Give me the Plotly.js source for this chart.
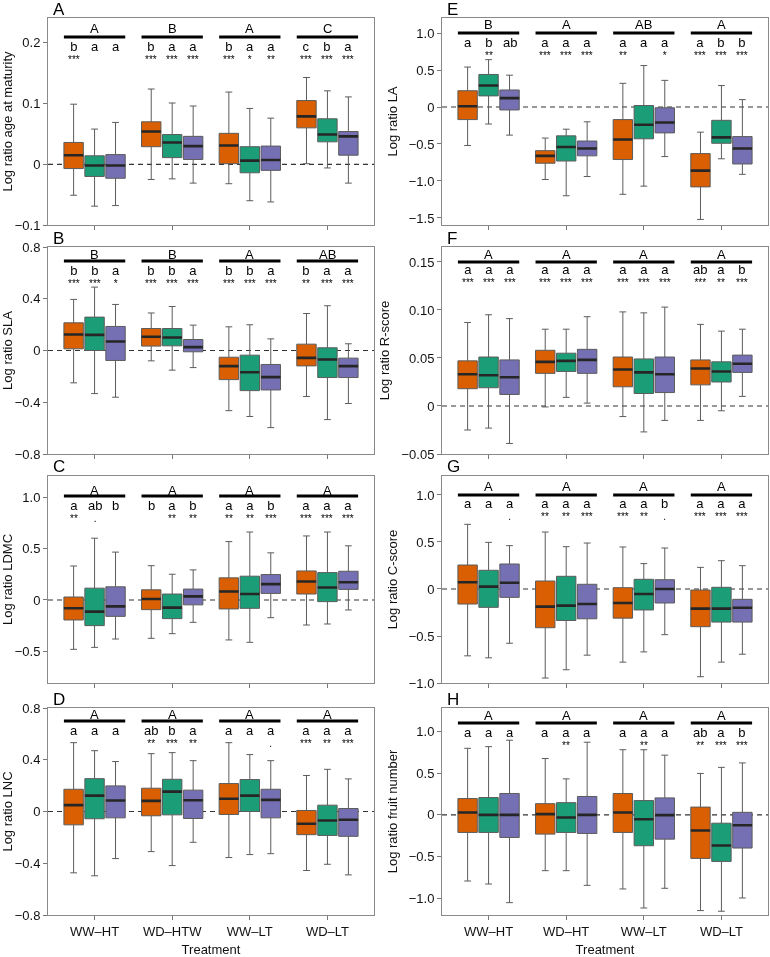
<!DOCTYPE html>
<html><head><meta charset="utf-8">
<script src="https://cdn.plot.ly/plotly-3.0.1.min.js"></script>
<style>
html,body{margin:0;padding:0;background:#fff}
#chart text{-webkit-font-smoothing:antialiased;}
#chart .infolayer{opacity:0.999;}
#chart svg.main-svg{will-change:transform;}
</style>
</head><body><div id="chart" style="width:770px;height:957px"></div>
<script>
// ---------- DATA ----------
const treatmentsLeft = ["WW–HT","WD–HTW","WW–LT","WD–LT"];
const treatmentsRight = ["WW–HT","WD–HT","WW–LT","WD–LT"];
const seriesNames = ["Group 1","Group 2","Group 3"];

// values: [treatment][series]
// A: age at maturity
const ageUp  = [[0.099,0.058,0.069],[0.124,0.101,0.096],[0.119,0.092,0.076],[0.143,0.121,0.111]];
const ageQ3  = [[0.036,0.014,0.016],[0.070,0.049,0.046],[0.051,0.029,0.030],[0.105,0.075,0.054]];
const ageMed = [[0.015,-0.002,-0.002],[0.054,0.036,0.030],[0.031,0.006,0.007],[0.079,0.049,0.046]];
const ageQ1  = [[-0.007,-0.020,-0.023],[0.029,0.011,0.008],[0.001,-0.014,-0.010],[0.060,0.037,0.015]];
const ageLow = [[-0.051,-0.069,-0.068],[-0.025,-0.024,-0.031],[-0.032,-0.060,-0.062],[0.001,-0.006,-0.031]];
const ageGroups  = ["A","B","A","C"];
const ageLetters = [["b","a","a"],["b","a","a"],["b","a","a"],["c","b","a"]];
const ageStars   = [["***","",""],["***","***","***"],["***","*","**"],["***","***","***"]];
const ageTickVals = [-0.1,0,0.1,0.2];
const ageTickText = ["−0.1","0","0.1","0.2"];

// B: SLA
const slaUp  = [[0.395,0.49,0.356],[0.29,0.34,0.196],[0.183,0.199,0.09],[0.286,0.346,0.052]];
const slaQ3  = [[0.214,0.258,0.186],[0.17,0.17,0.085],[-0.052,-0.036,-0.108],[0.049,0.021,-0.059]];
const slaMed = [[0.124,0.121,0.07],[0.106,0.10,0.026],[-0.121,-0.168,-0.206],[-0.057,-0.07,-0.121]];
const slaQ1  = [[0.013,0.0,-0.077],[0.034,0.036,-0.01],[-0.225,-0.31,-0.305],[-0.119,-0.209,-0.209]];
const slaLow = [[-0.25,-0.333,-0.361],[-0.08,-0.152,-0.132],[-0.465,-0.51,-0.596],[-0.356,-0.534,-0.41]];
const slaGroups  = ["B","B","A","AB"];
const slaLetters = [["b","b","a"],["b","b","a"],["b","b","a"],["b","a","a"]];
const slaStars   = [["***","***","*"],["***","***","***"],["***","***","***"],["**","***","***"]];
const slaTickVals = [-0.8,-0.4,0,0.4,0.8];
const slaTickText = ["−0.8","−0.4","0","0.4","0.8"];

// C: LDMC
const ldmcUp  = [[0.33,0.60,0.465],[0.333,0.25,0.292],[0.567,0.66,0.458],[0.622,0.66,0.526]];
const ldmcQ3  = [[0.029,0.115,0.128],[0.099,0.058,0.106],[0.215,0.231,0.247],[0.282,0.266,0.279]];
const ldmcMed = [[-0.08,-0.113,-0.062],[0.01,-0.074,0.035],[0.083,0.058,0.154],[0.179,0.122,0.173]];
const ldmcQ1  = [[-0.194,-0.249,-0.159],[-0.094,-0.181,-0.047],[-0.087,-0.081,0.064],[0.058,-0.016,0.103]];
const ldmcLow = [[-0.479,-0.46,-0.379],[-0.372,-0.327,-0.217],[-0.388,-0.411,-0.172],[-0.243,-0.233,-0.097]];
const ldmcGroups  = ["A","A","A","A"];
const ldmcLetters = [["a","ab","b"],["b","a","b"],["a","a","b"],["a","a","a"]];
const ldmcStars   = [["**",".",""],["","**","**"],["**","**","***"],["***","***","***"]];
const ldmcTickVals = [-0.5,0,0.5,1.0];
const ldmcTickText = ["−0.5","0","0.5","1.0"];

// D: LNC
const lncUp  = [[0.532,0.47,0.386],[0.447,0.455,0.393],[0.532,0.44,0.393],[0.278,0.326,0.252]];
const lncQ3  = [[0.172,0.254,0.198],[0.18,0.249,0.165],[0.216,0.247,0.172],[0.008,0.049,0.023]];
const lncMed = [[0.049,0.123,0.085],[0.082,0.154,0.087],[0.098,0.123,0.09],[-0.095,-0.069,-0.064]];
const lncQ1  = [[-0.103,-0.056,-0.049],[-0.033,-0.026,-0.054],[-0.023,0.0,-0.049],[-0.179,-0.185,-0.192]];
const lncLow = [[-0.474,-0.497,-0.364],[-0.31,-0.418,-0.238],[-0.356,-0.333,-0.326],[-0.456,-0.408,-0.49]];
const lncGroups  = ["A","A","A","A"];
const lncLetters = [["a","a","a"],["ab","b","a"],["a","a","a"],["a","a","a"]];
const lncStars   = [["","",""],["**","***","**"],["","","."],["***","**","***"]];
const lncTickVals = [-0.8,-0.4,0,0.4,0.8];
const lncTickText = ["−0.8","−0.4","0","0.4","0.8"];

// E: LA
const laUp  = [[0.54,0.64,0.43],[-0.42,-0.30,-0.20],[0.32,0.56,0.36],[-0.34,0.29,0.10]];
const laQ3  = [[0.22,0.44,0.23],[-0.59,-0.39,-0.46],[-0.17,0.02,-0.01],[-0.63,-0.18,-0.40]];
const laMed = [[0.01,0.29,0.12],[-0.66,-0.54,-0.56],[-0.44,-0.24,-0.21],[-0.86,-0.41,-0.56]];
const laQ1  = [[-0.17,0.15,-0.04],[-0.76,-0.73,-0.66],[-0.71,-0.43,-0.35],[-1.08,-0.49,-0.77]];
const laLow = [[-0.52,-0.23,-0.38],[-0.98,-1.20,-0.94],[-1.18,-1.07,-0.67],[-1.52,-0.70,-0.91]];
const laGroups  = ["B","A","AB","A"];
const laLetters = [["a","b","ab"],["a","a","a"],["a","a","a"],["a","b","b"]];
const laStars   = [["","**",""],["***","***","***"],["**","","*"],["***","***","***"]];
const laTickVals = [-1.5,-1.0,-0.5,0,0.5,1.0];
const laTickText = ["−1.5","−1.0","−0.5","0","0.5","1.0"];

// F: R-score
const rUp  = [[0.087,0.095,0.091],[0.080,0.080,0.093],[0.098,0.097,0.103],[0.085,0.078,0.080]];
const rQ3  = [[0.047,0.051,0.048],[0.058,0.055,0.059],[0.051,0.049,0.051],[0.048,0.046,0.053]];
const rMed = [[0.033,0.032,0.030],[0.046,0.047,0.048],[0.038,0.035,0.033],[0.039,0.036,0.044]];
const rQ1  = [[0.018,0.019,0.012],[0.034,0.036,0.034],[0.020,0.013,0.014],[0.022,0.025,0.035]];
const rLow = [[-0.025,-0.023,-0.039],[-0.001,0.009,0.003],[-0.011,-0.027,-0.015],[-0.015,-0.005,0.010]];
const rGroups  = ["A","A","A","A"];
const rLetters = [["a","a","a"],["a","a","a"],["a","a","a"],["ab","a","b"]];
const rStars   = [["***","***","***"],["***","***","***"],["***","***","***"],["***","**","***"]];
const rTickVals = [-0.05,0,0.05,0.10,0.15];
const rTickText = ["−0.05","0","0.05","0.10","0.15"];

// G: C-score
const cUp  = [[0.688,0.496,0.461],[0.606,0.45,0.489],[0.447,0.27,0.436],[0.23,0.301,0.248]];
const cQ3  = [[0.255,0.199,0.266],[0.085,0.135,0.05],[0.014,0.103,0.099],[-0.011,0.018,-0.11]];
const cMed = [[0.071,0.025,0.067],[-0.188,-0.177,-0.16],[-0.149,-0.053,0.0],[-0.209,-0.209,-0.199]];
const cQ1  = [[-0.16,-0.195,-0.089],[-0.412,-0.335,-0.317],[-0.31,-0.223,-0.149],[-0.401,-0.352,-0.352]];
const cLow = [[-0.711,-0.732,-0.577],[-0.947,-0.859,-0.704],[-0.778,-0.669,-0.486],[-0.933,-0.778,-0.694]];
const cGroups  = ["A","A","A","A"];
const cLetters = [["a","a","a"],["a","a","a"],["a","a","b"],["a","a","a"]];
const cStars   = [["","","."],["**","**","***"],["***","**","."],["***","***","***"]];
const cTickVals = [-1.0,-0.5,0,0.5,1.0];
const cTickText = ["−1.0","−0.5","0","0.5","1.0"];

// H: fruit number
const fUp  = [[0.797,0.817,0.894],[0.675,0.431,0.87],[0.78,0.78,0.715],[0.496,0.569,0.622]];
const fQ3  = [[0.195,0.207,0.256],[0.134,0.146,0.22],[0.256,0.171,0.203],[0.093,-0.10,0.03]];
const fMed = [[0.028,0.0,0.0],[0.008,-0.032,0.0],[0.028,-0.052,-0.004],[-0.187,-0.367,-0.124]];
const fQ1  = [[-0.211,-0.211,-0.271],[-0.231,-0.211,-0.223],[-0.211,-0.37,-0.291],[-0.522,-0.558,-0.398]];
const fLow = [[-0.793,-0.829,-1.052],[-0.669,-0.669,-0.845],[-0.888,-1.116,-0.88],[-1.147,-1.155,-0.996]];
const fGroups  = ["A","A","A","A"];
const fLetters = [["a","a","a"],["a","a","a"],["a","a","a"],["ab","a","b"]];
const fStars   = [["","",""],["","**",""],["","**",""],["**","***","***"]];
const fTickVals = [-1.0,-0.5,0,0.5,1.0];
const fTickText = ["−1.0","−0.5","0","0.5","1.0"];

// ---------- PANELS (layout/style) ----------
const panels = [
 {lab:'A', title:'Log ratio age at maturity', col:0,row:0, up:ageUp,q3:ageQ3,med:ageMed,q1:ageQ1,low:ageLow, groups:ageGroups,letters:ageLetters,stars:ageStars, range:[-0.1,0.241], tv:ageTickVals, tt:ageTickText, cats:treatmentsLeft, pos:[11,19,29]},
 {lab:'B', title:'Log ratio SLA', col:0,row:1, up:slaUp,q3:slaQ3,med:slaMed,q1:slaQ1,low:slaLow, groups:slaGroups,letters:slaLetters,stars:slaStars, range:[-0.8,0.8], tv:slaTickVals, tt:slaTickText, cats:treatmentsLeft, pos:[8,14,24]},
 {lab:'C', title:'Log ratio LDMC', col:0,row:2, up:ldmcUp,q3:ldmcQ3,med:ldmcMed,q1:ldmcQ1,low:ldmcLow, groups:ldmcGroups,letters:ldmcLetters,stars:ldmcStars, range:[-0.806,1.204], tv:ldmcTickVals, tt:ldmcTickText, cats:treatmentsLeft, pos:[14,20,30]},
 {lab:'D', title:'Log ratio LNC', col:0,row:3, up:lncUp,q3:lncQ3,med:lncMed,q1:lncQ1,low:lncLow, groups:lncGroups,letters:lncLetters,stars:lncStars, range:[-0.8,0.8], tv:lncTickVals, tt:lncTickText, cats:treatmentsLeft, pos:[6,13,23]},
 {lab:'E', title:'Log ratio LA', col:1,row:0, up:laUp,q3:laQ3,med:laMed,q1:laQ1,low:laLow, groups:laGroups,letters:laLetters,stars:laStars, range:[-1.595,1.203], tv:laTickVals, tt:laTickText, cats:treatmentsRight, pos:[7,15,25]},
 {lab:'F', title:'Log ratio R-score', col:1,row:1, up:rUp,q3:rQ3,med:rMed,q1:rQ1,low:rLow, groups:rGroups,letters:rLetters,stars:rStars, range:[-0.05,0.1656], tv:rTickVals, tt:rTickText, cats:treatmentsRight, pos:[8,15,23]},
 {lab:'G', title:'Log ratio C-score', col:1,row:2, up:cUp,q3:cQ3,med:cMed,q1:cQ1,low:cLow, groups:cGroups,letters:cLetters,stars:cStars, range:[-1.0,1.202], tv:cTickVals, tt:cTickText, cats:treatmentsRight, pos:[10,19,28]},
 {lab:'H', title:'Log ratio fruit number', col:1,row:3, up:fUp,q3:fQ3,med:fMed,q1:fQ1,low:fLow, groups:fGroups,letters:fLetters,stars:fStars, range:[-1.2,1.28], tv:fTickVals, tt:fTickText, cats:treatmentsRight, pos:[7,15,25]}
];

const colors = ['#D95F02','#1B9E77','#7570B3'];
const offs = [-0.27, 0, 0.27];
const barHalf = 0.395;
const colX = [[48,374],[442,768]];
const rowY = [[18,225],[247,454],[476,683],[708,915]];
const W = 770, H = 957;
const FONT = 'Liberation Sans, Arial, Helvetica, sans-serif';
const LETTER_TOP = 10; // px from annotation box top to letter centre

const traces = [], shapes = [], annotations = [];
const layout = {
  width: W, height: H, margin: {l:0,r:0,t:0,b:0},
  paper_bgcolor:'#ffffff', plot_bgcolor:'#ffffff', showlegend:false,
  boxmode:'group', boxgap:0.19, boxgroupgap:0.074,
  font:{family:FONT, size:13, color:'#111'},
  shapes: shapes, annotations: annotations
};

panels.forEach((P, k) => {
  const n = k + 1;
  const sfx = n === 1 ? '' : String(n);
  const xa = 'x' + sfx, ya = 'y' + sfx;
  const [x0, x1] = colX[P.col];
  const [t, b] = rowY[P.row];
  const ph = b - t;
  layout['xaxis' + sfx] = {
    domain:[x0/W, x1/W], anchor: ya, range:[0.4, 4.6],
    tickvals:[1,2,3,4], ticktext:P.cats, showticklabels: P.row === 3,
    ticks:'outside', ticklen:4, tickcolor:'#777', tickfont:{size:13, family:FONT},
    showline:true, mirror:true, linecolor:'#8a8a8a', linewidth:1,
    showgrid:false, zeroline:false, fixedrange:true
  };
  if (P.row === 3) layout['xaxis' + sfx].title = {text:'Treatment', font:{size:13, family:FONT}, standoff:10};
  layout['yaxis' + sfx] = {
    domain:[1 - b/H, 1 - t/H], anchor: xa, range:P.range,
    tickvals:P.tv, ticktext:P.tt, ticks:'outside', ticklen:4, tickcolor:'#777',
    tickfont:{size:13, family:FONT},
    showline:true, mirror:true, linecolor:'#8a8a8a', linewidth:1,
    showgrid:false, zeroline:false, fixedrange:true,
    title:{text:P.title, font:{size:13, family:FONT}, standoff:8}
  };

  // zero dashed line
  shapes.push({type:'line', xref: xa + ' domain', x0:0, x1:1, yref: ya, y0:0, y1:0,
    line:{color:'#333', width:1.2, dash:'5px,4px'}, layer:'below'});

  for (let s = 0; s < 3; s++) {
    const col = (arr) => arr.map(g => g[s]);
    traces.push({
      type:'box', x:[1,2,3,4], xaxis:xa, yaxis:ya, name:seriesNames[s],
      q1:col(P.q1), median:col(P.med), q3:col(P.q3),
      lowerfence:col(P.low), upperfence:col(P.up),
      offsetgroup:'s'+s, alignmentgroup:'p'+n,
      fillcolor:colors[s], line:{color:'#5c5c5c', width:1},
      whiskerwidth:0.35, boxpoints:false, hoverinfo:'y'
    });
    // dark median overlay
    traces.push({
      type:'box', x:[1,2,3,4], xaxis:xa, yaxis:ya, name:seriesNames[s] + ' median',
      q1:col(P.med), median:col(P.med), q3:col(P.med),
      lowerfence:col(P.med), upperfence:col(P.med),
      offsetgroup:'s'+s, alignmentgroup:'p'+n,
      fillcolor:'rgba(0,0,0,0)', line:{color:'#262626', width:2.6},
      whiskerwidth:0, boxpoints:false, hoverinfo:'skip'
    });
  }

  for (let g = 0; g < 4; g++) {
    const xc = g + 1;
    annotations.push({xref:xa, yref:ya+' domain', x:xc, y:1, yshift:-P.pos[0], yanchor:'middle',
      text:P.groups[g], showarrow:false, font:{size:13, family:FONT, color:'#000'}});
    shapes.push({type:'line', xref:xa, x0:xc - barHalf, x1:xc + barHalf,
      yref:ya+' domain', y0:1 - P.pos[1]/ph, y1:1 - P.pos[1]/ph,
      line:{color:'#000', width:3}});
    for (let s = 0; s < 3; s++) {
      const st = P.stars[g][s];
      const txt = '<span style="font-size:13px">' + P.letters[g][s] + '</span>' +
                  (st ? '<br><span style="font-size:10px">' + st + '</span>' : '');
      annotations.push({xref:xa, yref:ya+' domain', x:xc + offs[s], y:1,
        yshift:-(P.pos[2] - LETTER_TOP), yanchor:'top', align:'center',
        text:txt, showarrow:false, font:{size:9.5, family:FONT, color:'#000'}});
    }
  }

  // panel letter
  annotations.push({xref:'paper', yref:'paper', x:(x0 + 3)/W, y:1 - (t - 9)/H, xanchor:'left', yanchor:'middle',
    text:P.lab, showarrow:false, font:{size:17, family:FONT, color:'#000'}});
});

Plotly.newPlot('chart', traces, layout, {staticPlot:true, displayModeBar:false});
</script></body></html>
